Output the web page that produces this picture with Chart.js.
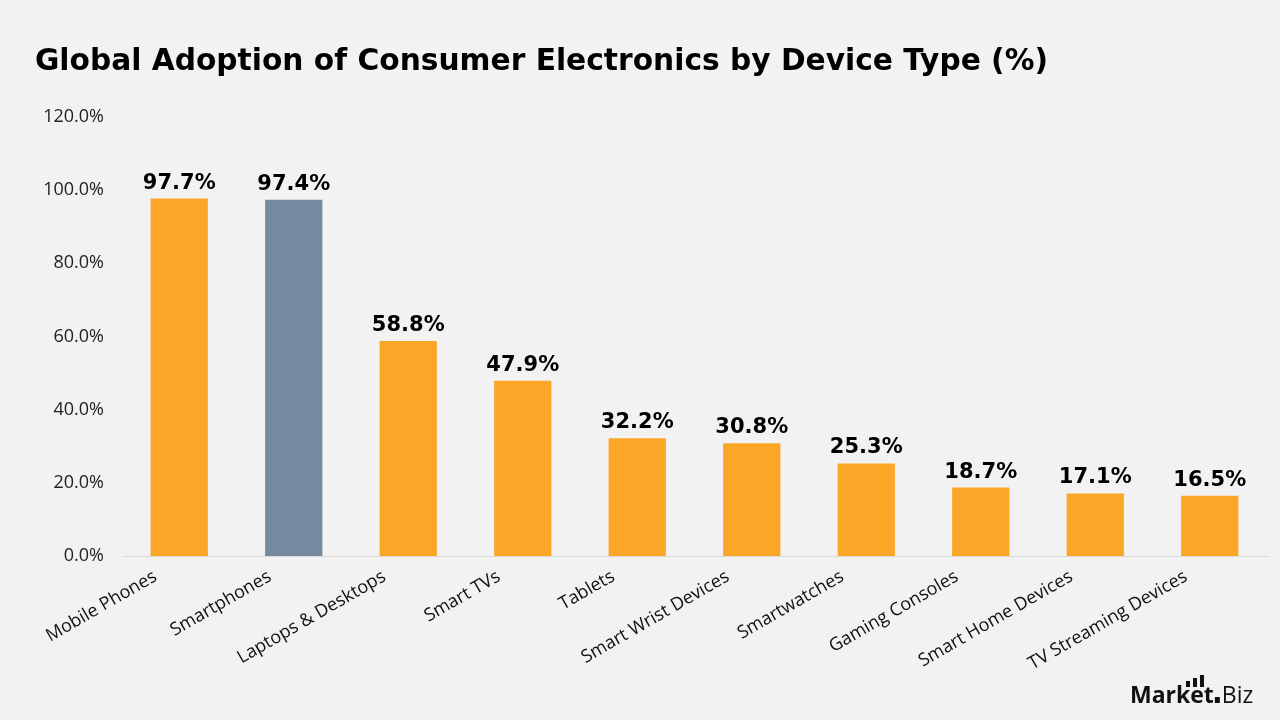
<!DOCTYPE html>
<html>
<head>
    <meta charset="UTF-8">
    <title>Global Adoption of Consumer Electronics</title>
    <script src="https://cdn.jsdelivr.net/npm/chart.js"></script>
    <style>
        html, body { margin: 0; padding: 0; background: #f2f2f2; }
        canvas { display: block; }
    </style>
</head>
<body>
    <canvas id="adoptionChart" width="1280" height="720"></canvas>
    <script>
        var devices = ['Mobile Phones', 'Smartphones', 'Laptops & Desktops', 'Smart TVs', 'Tablets',
            'Smart Wrist Devices', 'Smartwatches', 'Gaming Consoles', 'Smart Home Devices', 'TV Streaming Devices'];
        var adoption = [97.7, 97.4, 58.8, 47.9, 32.2, 30.8, 25.3, 18.7, 17.1, 16.5];
        var yTicks = [0, 20, 40, 60, 80, 100, 120];

        var orange = '#FCA628';
        var slate = '#768A9F';
        var barColors = devices.map(function (d) { return d === 'Smartphones' ? slate : orange; });
        var fontName = '"Open Sans", "DejaVu Sans", sans-serif';
        var boldFont = '"DejaVu Sans", "Open Sans", sans-serif';
        var titleText = 'Global Adoption of Consumer Electronics by Device Type (%)';

        // title, value labels and the logo text
        var extras = {
            id: 'extras',
            beforeDraw: function (chart) {
                var c = chart.ctx;
                c.save();
                c.fillStyle = '#f2f2f2';
                c.fillRect(0, 0, chart.width, chart.height);
                c.restore();
            },
            afterDatasetsDraw: function (chart) {
                var c = chart.ctx;
                c.save();
                c.fillStyle = '#000';
                // title sized to span the same width as the original
                var size = 28;
                c.font = 'bold ' + size + 'px ' + boldFont;
                var tw = c.measureText(titleText).width;
                size = Math.min(30, size * 1013 / tw);
                c.font = 'bold ' + size.toFixed(1) + 'px ' + boldFont;
                c.textAlign = 'left';
                c.textBaseline = 'alphabetic';
                c.fillText(titleText, 35, 70);

                c.font = 'bold 21px ' + boldFont;
                c.textAlign = 'center';
                c.textBaseline = 'bottom';
                chart.getDatasetMeta(0).data.forEach(function (bar, i) {
                    c.fillText(adoption[i].toFixed(1) + '%', bar.x, bar.y - 5);
                });

                // logo
                c.textAlign = 'left';
                c.textBaseline = 'alphabetic';
                c.font = 'bold 23px ' + fontName;
                c.fillStyle = '#111';
                c.fillText('Market', 1130, 703);
                var w = c.measureText('Market').width;
                c.fillRect(1131 + w, 697, 5, 6);
                c.font = '23px ' + fontName;
                c.fillText('Biz', 1130 + w + 8, 703);
                [6, 9, 12].forEach(function (h, k) {
                    c.fillRect(1186 + k * 7, 687 - h, 4, h);
                });
                c.restore();
            }
        };

        var ctx = document.getElementById('adoptionChart').getContext('2d');
        var chart = new Chart(ctx, {
            type: 'bar',
            data: {
                labels: devices,
                datasets: [{
                    data: adoption,
                    backgroundColor: barColors,
                    barPercentage: 0.5,
                    categoryPercentage: 1.0
                }]
            },
            options: {
                responsive: false,
                animation: false,
                devicePixelRatio: 1,
                layout: { padding: { top: 117, right: 13, left: 0, bottom: 0 } },
                plugins: {
                    legend: { display: false },
                    tooltip: { enabled: false }
                },
                scales: {
                    x: {
                        grid: { display: false, drawTicks: false },
                        border: { display: true, color: '#d9d9d9', width: 1 },
                        ticks: {
                            color: '#111',
                            font: { family: fontName, size: 18 },
                            minRotation: 30,
                            maxRotation: 30,
                            autoSkip: false,
                            padding: 10,
                            labelOffset: -24
                        },
                        afterFit: function (scale) { scale.height = 164; }
                    },
                    y: {
                        min: 0,
                        max: 120,
                        afterBuildTicks: function (scale) {
                            scale.ticks = yTicks.map(function (v) { return { value: v }; });
                        },
                        grid: { display: false, drawTicks: false },
                        border: { display: false },
                        ticks: {
                            color: '#222',
                            font: { family: fontName, size: 18 },
                            padding: 18,
                            callback: function (v) { return v.toFixed(1) + '%'; }
                        },
                        afterFit: function (scale) { scale.width = 122; }
                    }
                }
            },
            plugins: [extras]
        });
    </script>
</body>
</html>
